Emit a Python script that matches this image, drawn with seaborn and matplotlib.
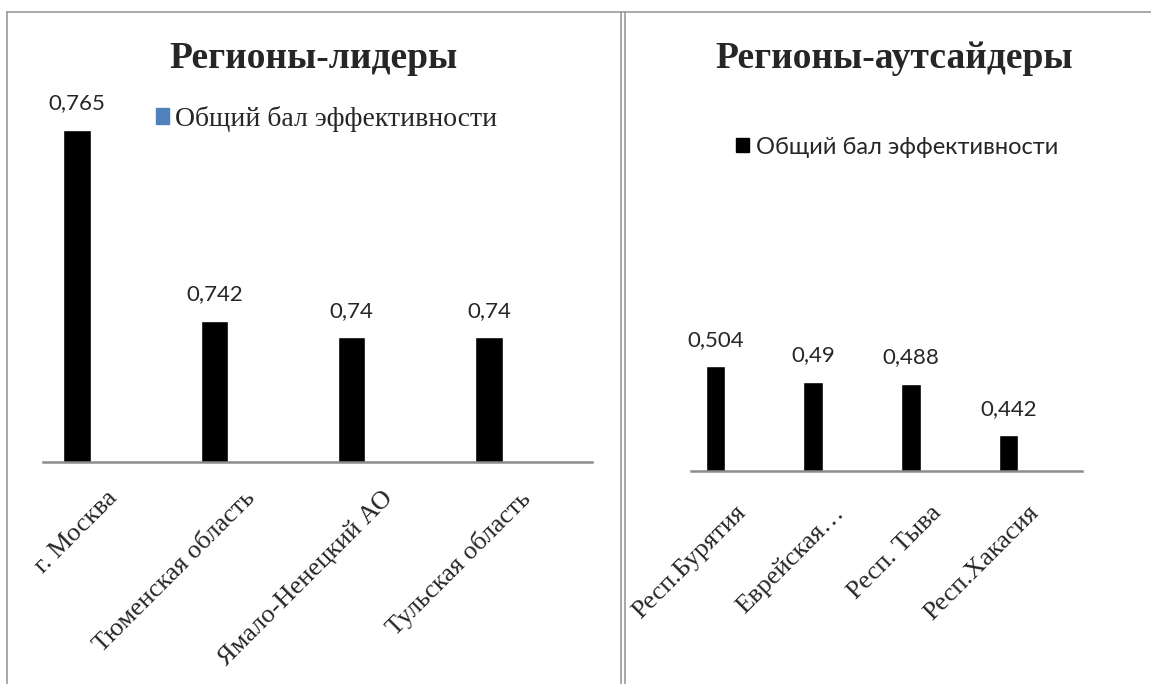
import matplotlib.pyplot as plt
import matplotlib.transforms as mtransforms
from matplotlib.patches import Patch
from matplotlib.lines import Line2D
import seaborn as sns
import pandas as pd

# Data
leaders = ['г. Москва', 'Тюменская область', 'Ямало-Ненецкий АО', 'Тульская область']
leaders_score = [0.765, 0.742, 0.74, 0.74]
outsiders = ['Респ.Бурятия', 'Еврейская…', 'Респ. Тыва', 'Респ.Хакасия']
outsiders_score = [0.504, 0.49, 0.488, 0.442]
series_name = 'Общий бал эффективности'

sns.set_theme(style='white')
plt.rcParams['font.family'] = ['Liberation Serif', 'DejaVu Serif']

W, H = 1151, 684
fig = plt.figure(figsize=(W / 100, H / 100), dpi=100)


def px_axes(x0, x1, ytop, ybase):
    return fig.add_axes([x0 / W, (H - ybase) / H, (x1 - x0) / W, (ybase - ytop) / H])


def draw(ax, names, scores, ylim, title, title_x, tick_pad):
    df = pd.DataFrame({'region': names, 'score': scores})
    sns.barplot(data=df, x='region', y='score', color='black', width=0.2,
                saturation=1, ax=ax)
    # Excel leaves room for an empty second series: bars sit left of the category centre
    ax.set_xlim(-0.25, len(names) - 0.25)
    ax.set_ylim(*ylim)
    for s in ['top', 'right', 'left']:
        ax.spines[s].set_visible(False)
    ax.spines['bottom'].set_color('#8c8c8c')
    ax.spines['bottom'].set_linewidth(1.8)
    ax.set_yticks([])
    ax.set_xlabel('')
    ax.set_ylabel('')
    ax.set_xticks([i + 0.25 for i in range(len(names))], names)
    ax.tick_params(axis='x', length=0, pad=tick_pad)
    labels = [str(v).replace('.', ',') for v in scores]
    ax.bar_label(ax.containers[0], labels=labels, padding=12,
                 fontsize=16, family='Lato')
    offset = mtransforms.ScaledTranslation(-5 / 100, 0, fig.dpi_scale_trans)
    for t in ax.get_xticklabels():
        t.set_rotation(45)
        t.set_ha('right')
        t.set_va('top')
        t.set_rotation_mode('anchor')
        t.set_fontsize(19)
        t.set_transform(t.get_transform() + offset)
    fig.text(title_x / W, 1 - 58 / H, title, ha='center', va='center',
             fontsize=27, fontweight='bold')


ax1 = px_axes(42.7, 592, 100, 461.7)
draw(ax1, leaders, leaders_score, (0.725, 0.725 + 361.7 / 8292),
     'Регионы-лидеры', 314, 18)
ax1.legend(handles=[Patch(color='#4f81bd')], labels=[series_name],
           loc='center left', bbox_to_anchor=(156 / W, 1 - 119 / H),
           bbox_transform=fig.transFigure, frameon=False, fontsize=20,
           borderpad=0, borderaxespad=0,
           handlelength=0.47, handleheight=0.47, handletextpad=0.2)

ax2 = px_axes(691, 1081.7, 100, 471)
draw(ax2, outsiders, outsiders_score, (0.41, 0.41 + 371 / 1113),
     'Регионы-аутсайдеры', 894, 22)
ax2.legend(handles=[Patch(color='black')], labels=[series_name],
           loc='center left', bbox_to_anchor=(736 / W, 1 - 147 / H),
           bbox_transform=fig.transFigure, frameon=False,
           prop={'family': 'Lato', 'size': 17},
           borderpad=0, borderaxespad=0,
           handlelength=0.55, handleheight=0.55, handletextpad=0.3)

# panel borders
gray = '#9a9a9a'
for xs, ys in [([7 / W, 7 / W], [0, 1 - 12 / H]),
               ([7 / W, 1], [1 - 12 / H, 1 - 12 / H]),
               ([621 / W, 621 / W], [0, 1 - 12 / H]),
               ([624.5 / W, 624.5 / W], [0, 1 - 12 / H])]:
    fig.add_artist(Line2D(xs, ys, color=gray, lw=1.2, transform=fig.transFigure))

fig.savefig('out.png', dpi=100)
